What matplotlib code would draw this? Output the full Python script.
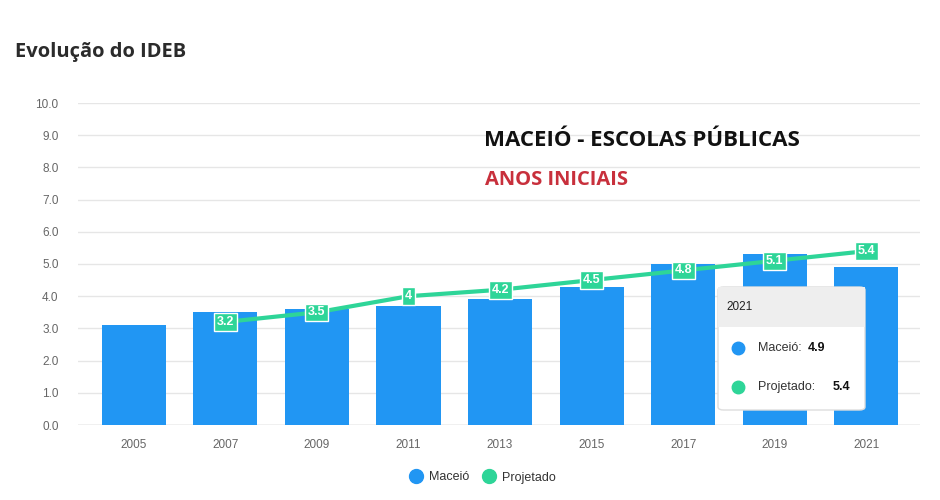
import numpy as np
import matplotlib.pyplot as plt
from matplotlib.patches import FancyBboxPatch, Rectangle
from matplotlib.lines import Line2D

anos = ['2005', '2007', '2009', '2011', '2013', '2015', '2017', '2019', '2021']
maceio = [3.1, 3.5, 3.6, 3.7, 3.9, 4.3, 5.0, 5.3, 4.9]
projetado = [None, 3.2, 3.5, 4, 4.2, 4.5, 4.8, 5.1, 5.4]
proj_labels = ['', '3.2', '3.5', '4', '4.2', '4.5', '4.8', '5.1', '5.4']
yticks = [0, 1, 2, 3, 4, 5, 6, 7, 8, 9, 10]

azul = '#2196f3'
verde = '#2ed598'

plt.rcParams['font.family'] = ['Liberation Sans', 'DejaVu Sans']

fig = plt.figure(figsize=(9.4, 5.0), dpi=100)
ax = fig.add_axes([0.083, 0.15, 0.896, 0.644])

x = np.arange(len(anos))
ax.bar(x, maceio, width=0.7, color=azul, zorder=2)

px = [i for i, v in enumerate(projetado) if v is not None]
py = [v for v in projetado if v is not None]
ax.plot(px, py, color=verde, lw=3, zorder=3)
for i in px:
    ax.text(i, projetado[i], proj_labels[i], ha='center', va='center', color='white',
            fontsize=9, fontweight='bold', zorder=4,
            bbox=dict(boxstyle='square,pad=0.22', fc=verde, ec='white', lw=1))

ax.set_xlim(-0.61, 8.59)
ax.set_ylim(0, 10)
ax.set_yticks(yticks)
ax.set_yticklabels(['%.1f' % v for v in yticks])
ax.set_xticks(x)
ax.set_xticklabels(anos)
ax.tick_params(axis='both', colors='#666666', labelsize=8.5, length=0)
ax.tick_params(axis='y', pad=14)
ax.tick_params(axis='x', pad=10)
ax.yaxis.grid(True, color='#e6e6e6', lw=1)
ax.set_axisbelow(True)
for s in ax.spines.values():
    s.set_visible(False)
ax.axhline(0, color='#cccccc', lw=1, zorder=1)

fig.text(0.016, 0.896, 'Evolução do IDEB', fontsize=14.5, fontweight='bold',
         color='#2b2b2b', va='center', family=['Open Sans', 'DejaVu Sans'])
fig.text(0.515, 0.718, 'MACEIÓ - ESCOLAS PÚBLICAS', fontsize=16, fontweight='bold',
         color='#111111', va='center', family=['Open Sans', 'DejaVu Sans'])
fig.text(0.516, 0.640, 'ANOS INICIAIS', fontsize=14.5, fontweight='bold',
         color='#c8303c', va='center', family=['Open Sans', 'DejaVu Sans'])

# tooltip
tx0, ty0, tw, th = 718 / 940, 1 - 410 / 500, 147 / 940, 123 / 500
tip = FancyBboxPatch((tx0, ty0), tw, th, boxstyle='round,pad=0,rounding_size=0.006',
                     transform=fig.transFigure, fc='white', ec='#dddddd', lw=1, zorder=10)
fig.patches.append(tip)
head = Rectangle((tx0, 1 - 327 / 500), tw, 40 / 500, transform=fig.transFigure,
                 fc='#eeeeee', ec='none', zorder=11)
fig.patches.append(head)
fig.text(726 / 940, 1 - 307 / 500, '2021', fontsize=8.5, color='#222222', va='center', zorder=12)
fig.lines.append(Line2D([738 / 940], [1 - 348 / 500], marker='o', ms=9, color=azul,
                        transform=fig.transFigure, zorder=12))
fig.lines.append(Line2D([738 / 940], [1 - 387 / 500], marker='o', ms=9, color=verde,
                        transform=fig.transFigure, zorder=12))
fig.text(758 / 940, 1 - 348 / 500, 'Maceió:', fontsize=9, color='#333333', va='center', zorder=12)
fig.text(808 / 940, 1 - 348 / 500, '4.9', fontsize=9, fontweight='bold', color='#111111', va='center', zorder=12)
fig.text(758 / 940, 1 - 387 / 500, 'Projetado:', fontsize=9, color='#333333', va='center', zorder=12)
fig.text(833 / 940, 1 - 387 / 500, '5.4', fontsize=9, fontweight='bold', color='#111111', va='center', zorder=12)

handles = [Line2D([], [], marker='o', ls='none', ms=10, color=azul, label='Maceió'),
           Line2D([], [], marker='o', ls='none', ms=10, color=verde, label='Projetado')]
fig.legend(handles=handles, loc='center', bbox_to_anchor=(0.51, 0.045), ncol=2, frameon=False,
           fontsize=9, handletextpad=0.05, columnspacing=0.6, labelcolor='#333333')

fig.savefig('out.png', dpi=100, facecolor='white')
